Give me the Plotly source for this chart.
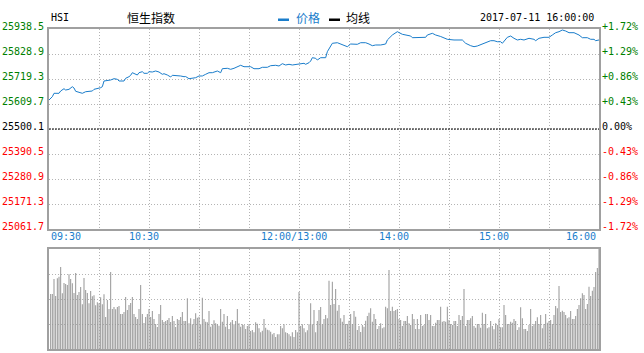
import plotly.graph_objects as go

# ---------------- data ----------------
# price line: minute index (0 = 09:30, 150 = 12:00/13:00, 330 = 16:00) and price
price_minute = [0, 2, 3, 6, 7, 9, 10, 12, 14, 15, 16, 18, 20, 22, 24, 26, 27, 29, 31, 32,
                33, 37, 39, 41, 42, 45, 46, 48, 49, 50, 51, 53, 54, 56, 57, 59, 60, 62, 64, 66,
                68, 69, 71, 73, 74, 78, 79, 81, 82, 84, 86, 88, 90, 92, 94, 96, 98, 100, 101, 103,
                104, 107, 109, 111, 113, 115, 117, 121, 123, 126, 128, 131, 133, 136, 138, 140, 142, 144, 146, 148,
                150, 153, 154, 156, 157, 158, 160, 161, 163, 166, 167, 169, 170, 173, 175, 176, 179, 181, 185, 187,
                190, 192, 194, 196, 199, 202, 203, 206, 208, 209, 212, 215, 217, 218, 221, 226, 227, 230, 232, 235,
                239, 243, 248, 250, 253, 255, 257, 260, 263, 265, 267, 269, 271, 272, 275, 277, 279, 281, 283, 285,
                288, 291, 292, 294, 297, 300, 302, 304, 306, 308, 310, 312, 315, 318, 320, 323, 325, 327, 328, 330]
price_value = [25627.2, 25641.7, 25656.6, 25656.6, 25666.7, 25676.8, 25671.0, 25674.0, 25685.5, 25679.8,
               25665.4, 25659.3, 25656.6, 25663.6, 25666.7, 25666.7, 25674.0, 25676.8, 25681.2, 25685.5,
               25710.5, 25714.9, 25720.6, 25718.0, 25710.5, 25710.5, 25722.4, 25729.4, 25735.5, 25746.9,
               25742.5, 25736.8, 25746.9, 25751.3, 25744.3, 25744.3, 25751.3, 25750.0, 25754.4, 25750.0,
               25739.9, 25742.5, 25736.8, 25728.1, 25735.5, 25735.5, 25732.5, 25729.4, 25730.0, 25720.6,
               25722.4, 25725.0, 25732.5, 25732.5, 25739.9, 25746.9, 25746.9, 25750.0, 25754.4, 25746.9,
               25764.5, 25766.2, 25761.8, 25766.2, 25773.2, 25779.4, 25773.2, 25773.2, 25764.5, 25764.5,
               25770.6, 25770.6, 25777.6, 25779.4, 25776.3, 25786.4, 25780.7, 25783.7, 25780.7, 25783.7,
               25785.0, 25788.1, 25783.7, 25790.8, 25798.2, 25812.7, 25810.1, 25802.6, 25812.7, 25812.7,
               25839.0, 25864.0, 25875.8, 25878.4, 25872.7, 25868.4, 25860.9, 25872.7, 25871.4, 25878.4,
               25878.4, 25872.7, 25865.3, 25868.4, 25868.4, 25872.7, 25890.3, 25912.2, 25922.3, 25926.7,
               25915.3, 25912.2, 25907.8, 25900.4, 25902.1, 25902.1, 25912.2, 25919.6, 25912.2, 25905.6,
               25893.3, 25890.3, 25890.3, 25875.8, 25865.3, 25860.9, 25864.0, 25872.7, 25878.4, 25887.2,
               25887.2, 25882.8, 25882.8, 25875.8, 25902.1, 25907.8, 25897.7, 25890.3, 25893.3, 25890.3,
               25897.7, 25893.3, 25887.2, 25897.7, 25902.1, 25902.1, 25912.2, 25922.3, 25926.7, 25934.1,
               25929.7, 25922.3, 25922.3, 25912.2, 25900.4, 25900.4, 25893.3, 25893.3, 25887.2, 25890.3]

# per-minute volume (relative units, minute 1..330)
volume = [55, 55, 70, 53, 70.7, 72.3, 82, 55.7, 66, 65, 64, 74.7, 70, 65.7, 56, 76, 54, 57, 62, 44.7,
          71, 59, 56, 45.7, 58, 52.7, 53.7, 43.7, 46.7, 45.7, 51.7, 44.7, 54.7, 32, 49, 40, 77, 40, 42, 39.7,
          42, 43, 35, 35, 37, 52, 39, 44, 46, 52, 35, 32, 30, 40, 64, 35, 26, 32, 35, 40,
          32, 38, 30, 25, 22, 35, 44, 29, 27, 28, 29, 31, 27, 33, 28, 22, 30, 29, 32, 37,
          28,
          28, 50.7, 25.7, 30.7, 24.7, 30, 35.7, 31.3, 32.3, 24.7, 51.3, 30, 27.3, 26.7, 38, 22.3, 24.7, 28.7, 25.7,
          24.7, 23.3, 40, 27.3, 35, 22.3, 33, 20, 26.7, 29, 24.7, 28, 40, 25.7, 22.3, 24.7, 24, 20, 23, 24.7,
          18, 19, 16.7, 26.7, 25.3, 20.7, 16.7, 18.3, 30, 21.3, 19.3, 18.7, 17.3, 14.7, 16, 12, 14.7, 14.7, 23, 20.7,
          24.7, 16.7, 16, 14.7, 12.7, 16.7, 12, 19, 16.7, 57, 23, 24.7, 20.7, 16.7, 18.7, 24.7, 45.7, 24.7, 39, 16.7,
          28, 39, 42, 24.7,
          30, 34, 30.7, 68.3, 44, 67.3, 45, 60, 38.3, 44, 30.7, 27.3, 34, 25, 25, 28.3, 35, 25, 38, 32.3,
          19, 23, 17, 24, 22.3, 28.3, 33, 36.3, 40.7, 27.3, 35, 30, 20, 23, 25.7, 20.7, 21.7, 42.3, 40.7, 79,
          38, 42.3, 38, 39, 40, 30, 29, 23, 28, 28, 33, 25.7, 24, 35, 30, 20, 30, 20, 34, 23,
          24, 35, 35, 29, 34, 23, 23, 26.3, 29, 29, 42.3, 27.3, 28, 27.3, 42.3, 29, 25, 24, 28, 28,
          23, 34, 29, 33, 60, 23, 29, 29, 30.7, 33, 23, 21.3, 25, 25, 21.3, 36.3, 25, 35, 20.7, 21.7,
          28, 23, 19.7, 25.7, 24, 30, 21.7, 21.7, 44, 34, 25, 25, 27.3, 26.3, 30, 28, 19, 21.7, 41.7, 30.7,
          20, 20, 18, 24, 40, 23, 25, 28, 31.7, 25, 34, 20.7, 25, 35, 26.3, 28, 29, 25, 34, 43,
          40.7, 63, 37, 38.3, 37, 34, 30.7, 31.7, 38, 30, 30, 33, 40, 44, 50.7, 55.7, 54, 40, 45, 62.3,
          53, 58.3, 62, 77, 81, 100]
volume_minute = list(range(1, len(volume) + 1))

# axis levels / labels
price_levels = [25938.5, 25828.9, 25719.3, 25609.7, 25500.1, 25390.5, 25280.9, 25171.3, 25061.7]
price_labels = ["25938.5", "25828.9", "25719.3", "25609.7", "25500.1", "25390.5", "25280.9", "25171.3", "25061.7"]
pct_labels = ["+1.72%", "+1.29%", "+0.86%", "+0.43%", "0.00%", "-0.43%", "-0.86%", "-1.29%", "-1.72%"]
prev_close = 25500.1
time_ticks = [0, 60, 150, 210, 270, 330]
time_labels = ["09:30", "10:30", "12:00/13:00", "14:00", "15:00", "16:00"]
grid_minutes = [30, 60, 90, 120, 150, 180, 210, 240, 270, 300]
vol_grid = [25, 50, 75]

# ---------------- style ----------------
BLUE = "#1a7dcb"
GREEN = "#008000"
RED = "#ff0000"
GRID = "#b4b4b4"
FRAME = "#a0a0a0"
MONO = "DejaVu Sans Mono"
CJK = "Noto Sans CJK SC"

W, H = 644, 353
L, R, T, B = 49, 45, 29, 4
PW, PH = W - L - R, H - T - B


def py(pix):  # pixel y -> paper y
    return (H - B - pix) / PH


def px(pix):  # pixel x -> paper x
    return (pix - L) / PW


fig = go.Figure()
fig.add_trace(go.Scatter(x=price_minute, y=price_value, mode="lines",
                         line=dict(color=BLUE, width=1), xaxis="x", yaxis="y",
                         hoverinfo="skip", showlegend=False))
# near-opaque colour makes plotly snap bar edges to whole pixels (crisp 1px bars)
fig.add_trace(go.Bar(x=volume_minute, y=volume,
                     marker=dict(color="rgba(150,150,150,0.999)", line=dict(width=0)),
                     width=0.6, xaxis="x2", yaxis="y2", hoverinfo="skip", showlegend=False))

axis_common = dict(showline=True, mirror=True, linecolor=FRAME, linewidth=2,
                   zeroline=False, showticklabels=False, ticks="",
                   showgrid=True, gridcolor=GRID, gridwidth=1, griddash="1px,2px")

fig.update_layout(
    width=W, height=H, margin=dict(l=L, r=R, t=T, b=B),
    paper_bgcolor="white", plot_bgcolor="white", showlegend=False,
    xaxis=dict(domain=[0, 1], range=[0, 330], tickvals=grid_minutes, anchor="y", **axis_common),
    yaxis=dict(domain=[py(229), 1], range=[price_levels[-1], price_levels[0]],
               tickvals=price_levels[1:-1], anchor="x", **axis_common),
    xaxis2=dict(domain=[0, 1], range=[0, 330], tickvals=grid_minutes, anchor="y2", matches="x", **axis_common),
    yaxis2=dict(domain=[0, py(249)], range=[0, max(volume)], tickvals=vol_grid, anchor="x2", **axis_common),
)

# previous close dashed line
fig.add_shape(type="line", xref="x domain", yref="y", x0=0, x1=1, y0=prev_close, y1=prev_close,
              line=dict(color="black", width=1, dash="2px,1px"))

ann = []
for lv, lab, pct in zip(price_levels, price_labels, pct_labels):
    col = GREEN if lv > prev_close + 0.01 else (RED if lv < prev_close - 0.01 else "black")
    ann.append(dict(x=0, xref="paper", y=lv, yref="y", text=lab, showarrow=False,
                    xanchor="right", yanchor="middle", xshift=-3, yshift=3,
                    font=dict(family=MONO, size=10, color=col)))
    ann.append(dict(x=1, xref="paper", y=lv, yref="y", text=pct, showarrow=False,
                    xanchor="left", yanchor="middle", xshift=1, yshift=3,
                    font=dict(family=MONO, size=10, color=col)))

for t, lab in zip(time_ticks, time_labels):
    if t == 0:
        xa, xs = "left", 0
    elif t == 330:
        xa, xs = "right", -1
    else:
        xa, xs = "center", -5
    ann.append(dict(x=t, xref="x", y=py(236.5), yref="paper", text=lab, showarrow=False,
                    xanchor=xa, yanchor="middle", xshift=xs,
                    font=dict(family=MONO, size=10, color=BLUE)))

# header texts
ann.append(dict(x=px(49), xref="paper", y=py(17.5), yref="paper", text="HSI", showarrow=False,
                xanchor="left", yanchor="middle", font=dict(family=MONO, size=10, color="black")))
ann.append(dict(x=px(125), xref="paper", y=py(18), yref="paper", text="恒生指数", showarrow=False,
                xanchor="left", yanchor="middle", font=dict(family=CJK, size=12, color="black")))
ann.append(dict(x=px(294), xref="paper", y=py(18), yref="paper", text="价格", showarrow=False,
                xanchor="left", yanchor="middle", font=dict(family=CJK, size=12, color=BLUE)))
ann.append(dict(x=px(344), xref="paper", y=py(18), yref="paper", text="均线", showarrow=False,
                xanchor="left", yanchor="middle", font=dict(family=CJK, size=12, color="black")))
ann.append(dict(x=px(596), xref="paper", y=py(18), yref="paper", text="2017-07-11 16:00:00", showarrow=False,
                xanchor="right", yanchor="middle", font=dict(family=MONO, size=10, color="black")))
fig.update_layout(annotations=ann)

# legend swatches
fig.add_shape(type="rect", xref="paper", yref="paper", x0=px(278), x1=px(289), y0=py(21), y1=py(18.5),
              fillcolor=BLUE, line=dict(width=0))
fig.add_shape(type="rect", xref="paper", yref="paper", x0=px(329), x1=px(340), y0=py(21), y1=py(18.5),
              fillcolor="black", line=dict(width=0))

fig.write_html("out.html")
